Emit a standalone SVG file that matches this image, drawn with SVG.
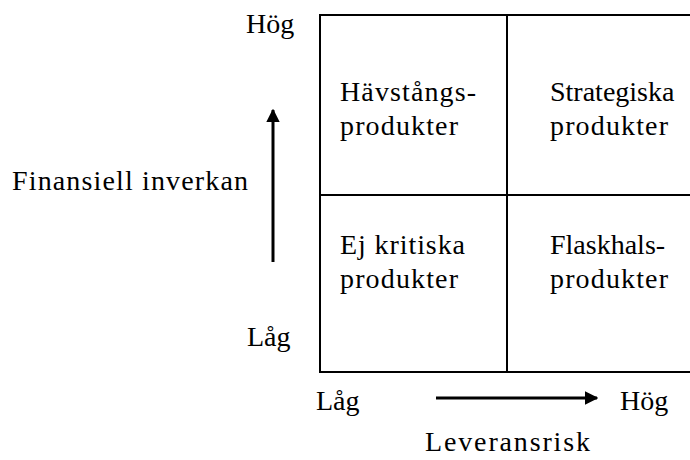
<svg xmlns="http://www.w3.org/2000/svg" width="690" height="460" viewBox="0 0 690 460">
  <style>
    text { font-family: "Liberation Serif", "Times New Roman", serif; font-size: 28px; fill: #000; }
    .frame { fill: none; stroke: #000; stroke-width: 2; }
    .axis { stroke: #000; stroke-width: 3; fill: none; }
  </style>
  <defs>
    <marker id="head" viewBox="0 0 10 10" refX="9" refY="5" markerWidth="4.5" markerHeight="4.5" markerUnits="strokeWidth" orient="auto">
      <path d="M0,0 L10,5 L0,10 Z" fill="#000"/>
    </marker>
  </defs>

  <!-- matrix frame -->
  <g id="matrix">
    <rect class="frame" x="320" y="15" width="380" height="357"/>
    <line class="frame" x1="507" y1="15" x2="507" y2="372"/>
    <line class="frame" x1="320" y1="195" x2="700" y2="195"/>
  </g>

  <g id="q-havstang">
    <text x="340" y="101" textLength="136" lengthAdjust="spacing">Hävstångs-</text>
    <text x="340" y="135" textLength="118" lengthAdjust="spacing">produkter</text>
  </g>
  <g id="q-strategiska">
    <text x="550" y="101">Strategiska</text>
    <text x="550" y="135" textLength="118" lengthAdjust="spacing">produkter</text>
  </g>
  <g id="q-ejkritiska">
    <text x="340" y="254" textLength="125" lengthAdjust="spacing">Ej kritiska</text>
    <text x="340" y="288" textLength="118" lengthAdjust="spacing">produkter</text>
  </g>
  <g id="q-flaskhals">
    <text x="550" y="254">Flaskhals-</text>
    <text x="550" y="288" textLength="118" lengthAdjust="spacing">produkter</text>
  </g>

  <!-- axis labels -->
  <g id="y-axis">
    <text x="246" y="33">Hög</text>
    <text x="247" y="346">Låg</text>
    <text x="12" y="190" textLength="236" lengthAdjust="spacing">Finansiell inverkan</text>
  </g>
  <g id="x-axis">
    <text x="316" y="410">Låg</text>
    <text x="620" y="410">Hög</text>
    <text x="425" y="451" textLength="165" lengthAdjust="spacing">Leveransrisk</text>
  </g>

  <g id="connectors">
    <line class="axis" x1="273" y1="262" x2="273" y2="110" marker-end="url(#head)"/>
    <line class="axis" x1="436" y1="398" x2="597" y2="398" marker-end="url(#head)"/>
  </g>
</svg>
